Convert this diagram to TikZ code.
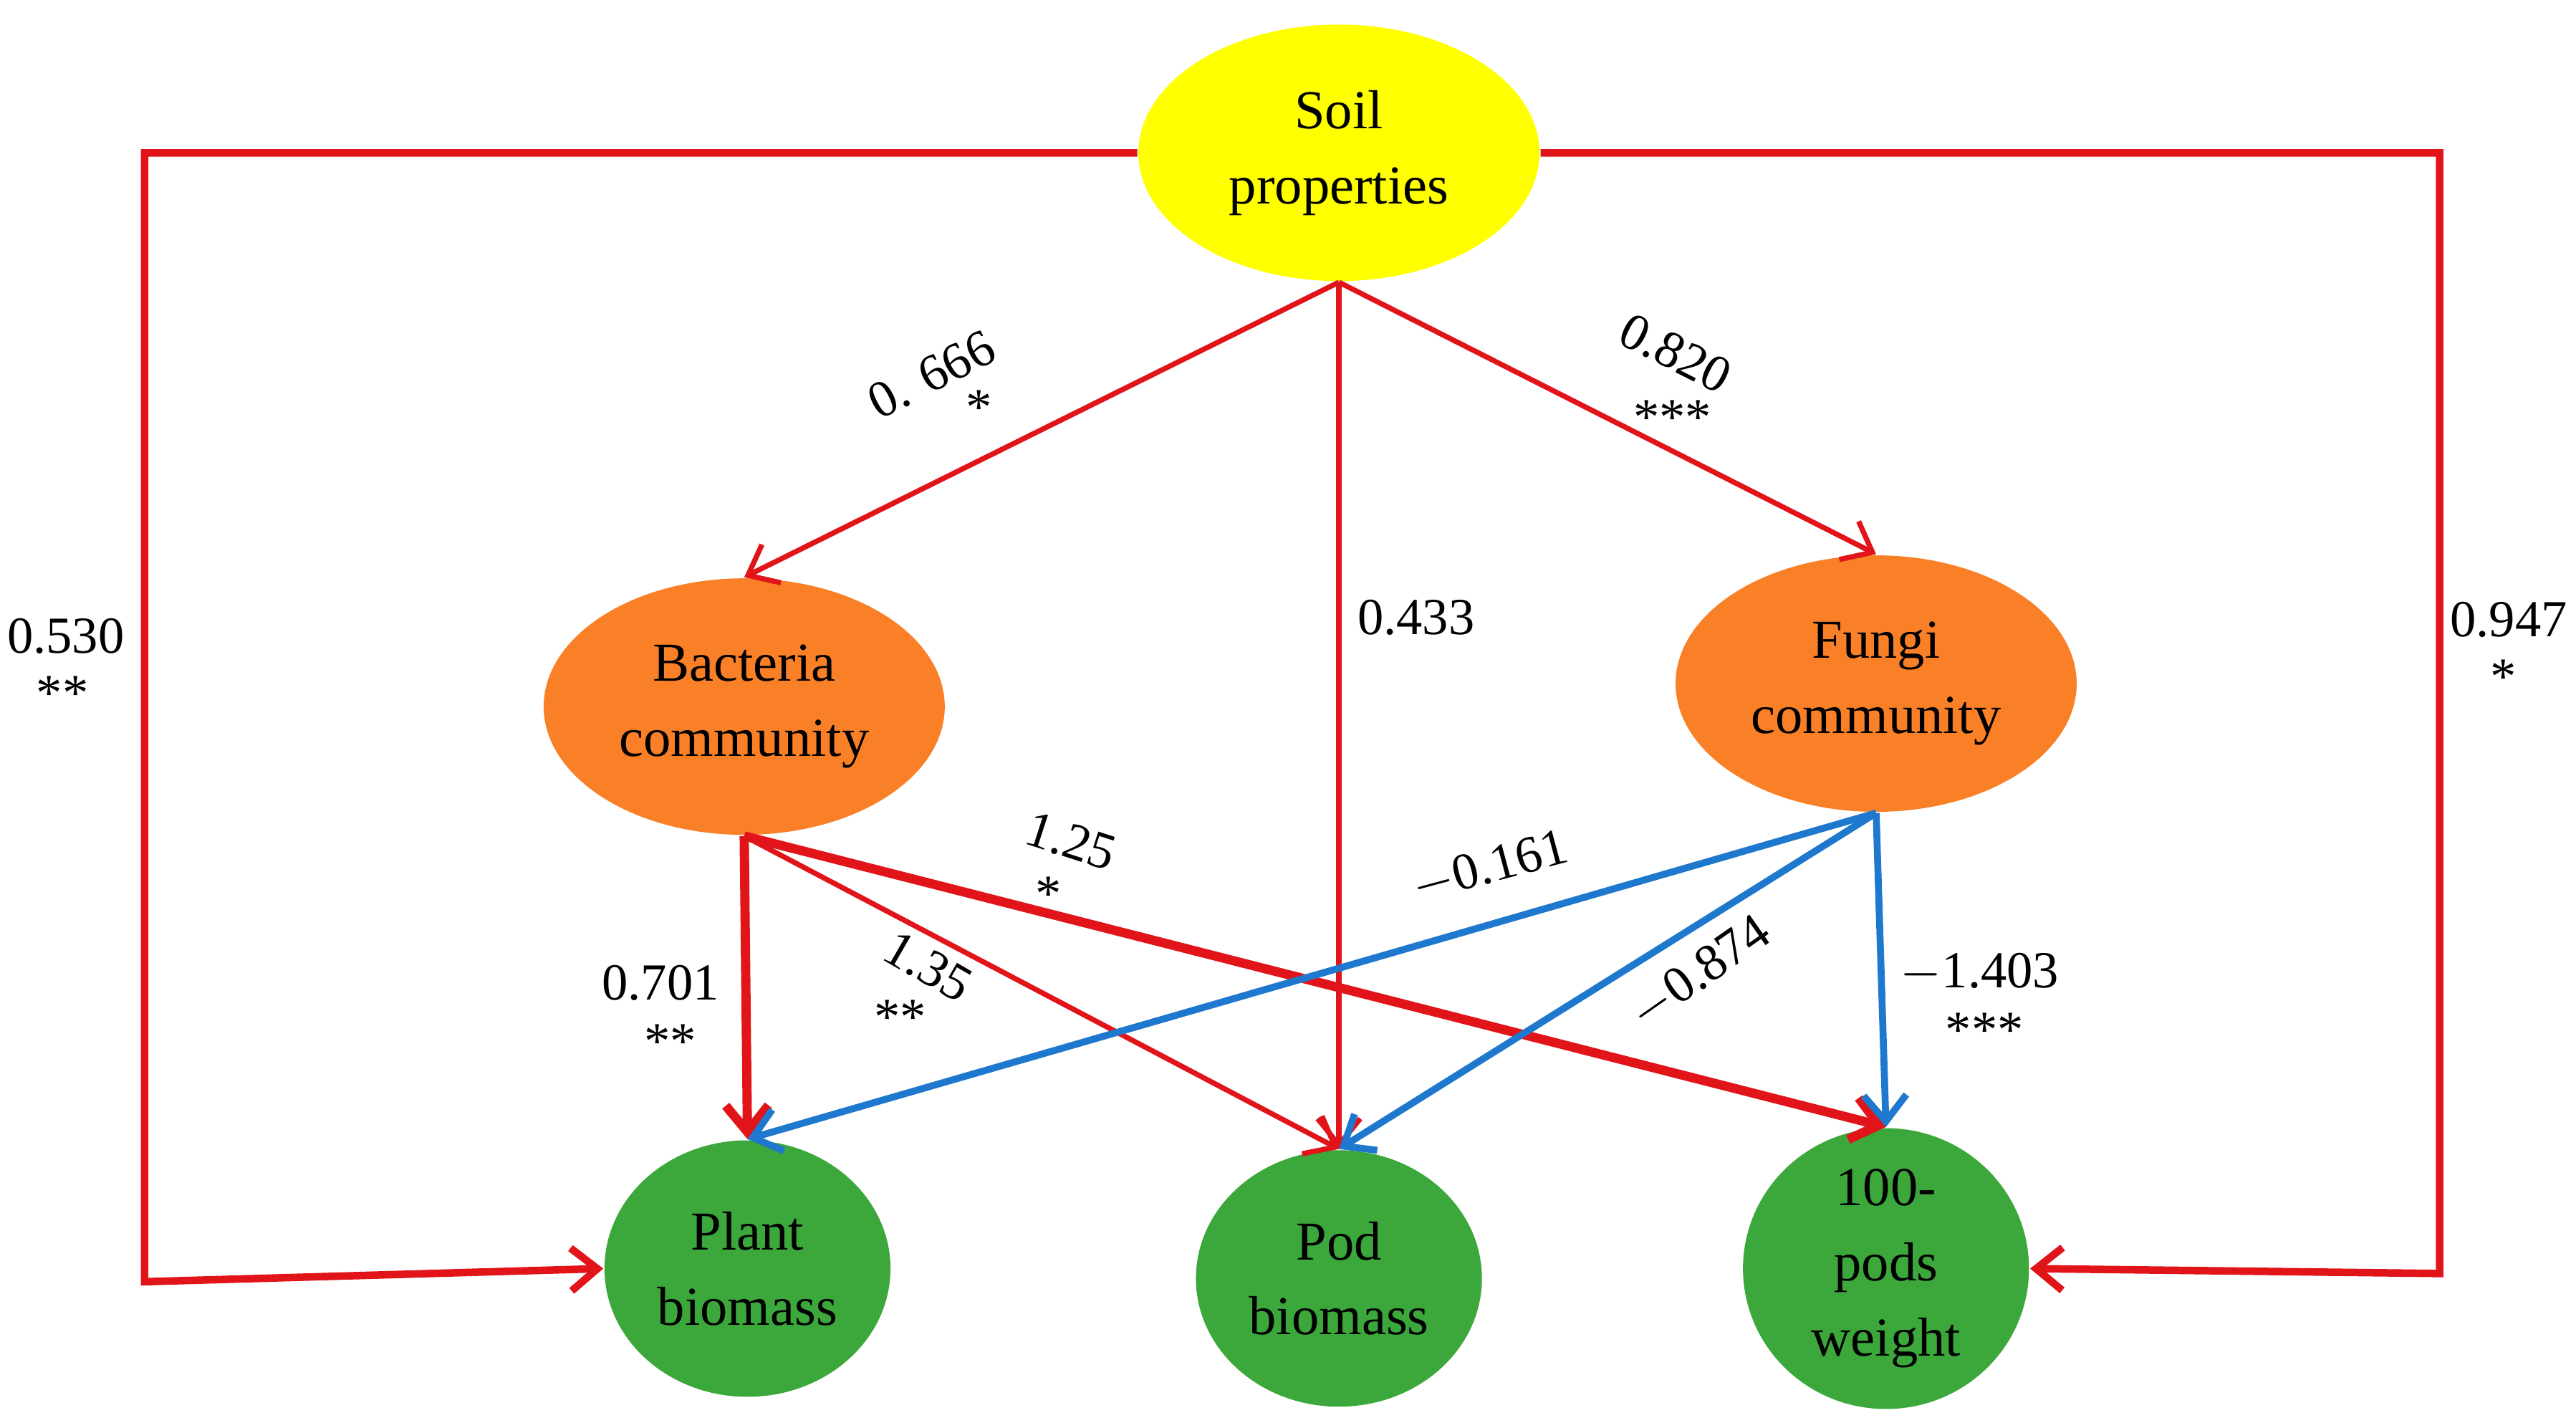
\documentclass[tikz,border=0pt]{standalone}
\usepackage{fontspec}
\setmainfont{Liberation Serif}
\usetikzlibrary{arrows.meta,shapes.geometric}
\definecolor{pathred}{RGB}{225,20,25}
\definecolor{pathblue}{RGB}{30,120,205}
\definecolor{soilyellow}{RGB}{255,255,0}
\definecolor{commorange}{RGB}{250,128,40}
\definecolor{yieldgreen}{RGB}{60,168,60}
\tikzset{
  var/.style={ellipse, inner sep=0pt, align=center, font=\fontsize{9.5}{13}\selectfont},
  big/.style={var, minimum width=2.44cm, minimum height=1.56cm},
  small/.style={var, minimum width=1.74cm, minimum height=1.56cm},
  posedge/.style={pathred, line width=0.9pt, -{Straight Barb[length=1.6mm,width=2.6mm]}},
  negedge/.style={pathblue, line width=1.2pt, -{Straight Barb[length=1.6mm,width=2.6mm]}},
  lab/.style={font=\fontsize{9}{11}\selectfont}
}
\begin{document}
\begin{tikzpicture}[x=0.01cm, y=-0.01cm]
  \useasboundingbox (0,0) rectangle (1568,869);
  % variables
  \node[big, fill=soilyellow] (soil) at (815,93) {Soil\\properties};
  \node[big, fill=commorange] (bact) at (453,430) {Bacteria\\community};
  \node[big, fill=commorange] (fungi) at (1142,416) {Fungi\\community};
  \node[small, fill=yieldgreen] (plant) at (455,772) {Plant\\biomass};
  \node[small, fill=yieldgreen] (pod) at (815,778) {Pod\\biomass};
  \node[small, fill=yieldgreen] (weight) at (1148,772) {100-\\pods\\weight};
  % corners of the outer paths
  \coordinate (lt) at (88,93);
  \coordinate (lb) at (88,780);
  \coordinate (rt) at (1485,93);
  \coordinate (rb) at (1485,775);
  % paths from soil
  \draw[posedge] (soil.south) -- (bact.north);
  \draw[posedge] (soil.south) -- (pod.north);
  \draw[posedge] (soil.south) -- (fungi.north);
  \draw[posedge, line width=1.3pt] (soil.west) -- (lt) -- (lb) -- (plant.west);
  \draw[posedge, line width=1.3pt] (soil.east) -- (rt) -- (rb) -- (weight.east);
  % paths from bacteria
  \draw[posedge, line width=1.6pt] (bact.south) -- (plant.north);
  \draw[posedge] (bact.south) -- (pod.north);
  \draw[posedge, line width=1.6pt] (bact.south) -- (weight.north);
  % paths from fungi
  \draw[negedge] (fungi.south) -- (plant.north);
  \draw[negedge] (fungi.south) -- (pod.north);
  \draw[negedge] (fungi.south) -- (weight.north);
  % coefficients
  \node[lab, rotate=27] at (567,228) {0. 666};
  \node[lab] at (596,248) {*};
  \node[lab, rotate=-27] at (1020,215) {0.820};
  \node[lab] at (1018,254) {***};
  \node[lab] at (862,376) {0.433};
  \node[lab] at (40,387) {0.530};
  \node[lab] at (38,422) {**};
  \node[lab] at (1527,377) {0.947};
  \node[lab] at (1524,412) {*};
  \node[lab, rotate=-18] at (652,512) {1.25};
  \node[lab] at (638,544) {*};
  \node[lab, rotate=15] at (907,528) {$-$0.161};
  \node[lab] at (402,598) {0.701};
  \node[lab] at (408,634) {**};
  \node[lab, rotate=-30] at (565,588) {1.35};
  \node[lab] at (548,619) {**};
  \node[lab, rotate=35] at (1035,592) {$-$0.874};
  \node[lab] at (1205,592) {$-$1.403};
  \node[lab] at (1208,627) {***};
\end{tikzpicture}
\end{document}
